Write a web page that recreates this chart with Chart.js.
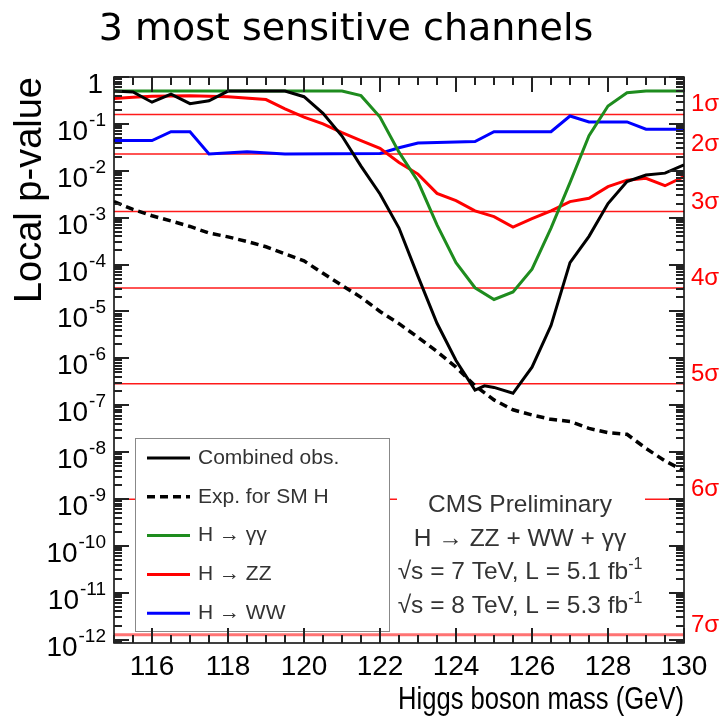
<!DOCTYPE html>
<html>
<head>
<meta charset="utf-8">
<script src="https://cdn.jsdelivr.net/npm/chart.js@4.4.1/dist/chart.umd.min.js"></script>
<style>
    html, body { margin: 0; padding: 0; background: #fff; }
    canvas { display: block; }
</style>
</head>
<body>
<canvas id="pvalueChart" width="724" height="726"></canvas>
<script>
// values (mass in GeV)
const combinedMass = [115, 115.5, 116, 116.5, 117, 117.5, 118, 119.5, 120, 120.5, 121, 121.5, 122, 122.5, 123, 123.5, 124, 124.5, 124.75, 125, 125.5, 126, 126.5, 127, 127.5, 128, 128.5, 129, 129.5, 130];
const combinedP = [0.5, 0.48, 0.29, 0.43, 0.27, 0.31, 0.5, 0.5, 0.38, 0.168, 0.055, 0.0126, 3.2e-3, 6e-4, 5.6e-5, 5.6e-6, 9e-7, 2.1e-7, 2.6e-7, 2.4e-7, 1.8e-7, 6.5e-7, 5e-6, 1.1e-4, 4e-4, 2e-3, 5.9e-3, 8.1e-3, 8.9e-3, 0.0133];

const expMass = [115, 115.5, 116, 116.5, 117, 117.5, 118, 118.5, 119, 119.5, 120, 120.5, 121, 121.5, 122, 122.5, 123, 123.5, 124, 124.5, 125, 125.5, 126, 126.5, 127, 127.5, 128, 128.5, 129, 129.5, 130];
const expP = [2.2e-3, 1.5e-3, 1.1e-3, 8.5e-4, 6.5e-4, 4.7e-4, 3.9e-4, 3.1e-4, 2.4e-4, 1.7e-4, 1.2e-4, 6.5e-5, 3.6e-5, 2.0e-5, 1.0e-5, 5.5e-6, 2.8e-6, 1.4e-6, 6.5e-7, 2.6e-7, 1.3e-7, 8e-8, 6.2e-8, 5e-8, 4.5e-8, 3.2e-8, 2.6e-8, 2.4e-8, 1.2e-8, 6.5e-9, 4e-9];

const gammaMass = [115, 121, 121.5, 122, 122.5, 123, 123.5, 124, 124.5, 125, 125.5, 126, 126.5, 127, 127.5, 128, 128.5, 129, 130];
const gammaP = [0.5, 0.5, 0.4, 0.14, 0.025, 5.9e-3, 7e-4, 1.1e-4, 3.2e-5, 1.8e-5, 2.6e-5, 8e-5, 6e-4, 5.6e-3, 0.056, 0.24, 0.46, 0.5, 0.5];

const zzMass = [115, 115.5, 116, 117, 118, 119, 119.5, 120, 120.5, 121, 121.5, 122, 122.5, 123, 123.5, 124, 124.5, 125, 125.5, 126, 126.5, 127, 127.5, 128, 128.5, 129, 129.5, 130];
const zzP = [0.35, 0.37, 0.39, 0.4, 0.38, 0.33, 0.21, 0.14, 0.1, 0.065, 0.044, 0.03, 0.015, 8.5e-3, 3.3e-3, 2.3e-3, 1.4e-3, 1.05e-3, 6.3e-4, 9.5e-4, 1.4e-3, 2.2e-3, 2.6e-3, 4.6e-3, 6.3e-3, 6.9e-3, 4.8e-3, 7.5e-3];

const wwMass = [115, 116, 116.5, 117, 117.5, 118.5, 119.5, 122, 122.5, 123, 124.5, 125, 126.5, 127, 127.5, 128.5, 129, 130];
const wwP = [0.044, 0.044, 0.068, 0.068, 0.0228, 0.0256, 0.0228, 0.0235, 0.031, 0.039, 0.042, 0.068, 0.068, 0.147, 0.11, 0.11, 0.077, 0.077];

const sigmaP = [0.1587, 0.02275, 1.35e-3, 3.167e-5, 2.867e-7, 9.866e-10, 1.28e-12];
const sigmaLabels = ['1σ', '2σ', '3σ', '4σ', '5σ', '6σ', '7σ'];

const xTicks = [116, 118, 120, 122, 124, 126, 128, 130];
const yExponents = [0, -1, -2, -3, -4, -5, -6, -7, -8, -9, -10, -11, -12];

const massRange = [115, 130];
const pRange = [8.5e-13, 1];

const infoLines = ['CMS Preliminary', 'H \u2192 ZZ + WW + \u03b3\u03b3', '\u221as = 7 TeV, L = 5.1 fb', '\u221as = 8 TeV, L = 5.3 fb'];
const infoSup = ['', '', '-1', '-1'];

function toPoints(mass, p) {
    return mass.map((m, i) => ({ x: m, y: p[i] }));
}

const SANS = "'Liberation Sans', Arial, Helvetica, sans-serif";

// right aligned "10" with raised exponent
function drawPower(ctx, base, sup, xRight, baseline, size) {
    ctx.font = size + 'px ' + SANS;
    const baseW = ctx.measureText(base).width;
    const supSize = Math.round(size * 0.68);
    ctx.font = supSize + 'px ' + SANS;
    const supW = sup ? ctx.measureText(sup).width : 0;
    ctx.textAlign = 'left';
    ctx.textBaseline = 'alphabetic';
    if (sup) ctx.fillText(sup, xRight - supW, baseline - size * 0.5);
    ctx.font = size + 'px ' + SANS;
    ctx.fillText(base, xRight - supW - baseW - (sup ? 1 : 0), baseline);
}

// small tick marks on all four sides, pointing into the frame
function drawFrameTicks(chart) {
    const ctx = chart.ctx;
    const area = chart.chartArea;
    const xs = chart.scales.x;
    const ys = chart.scales.y;
    ctx.save();
    ctx.strokeStyle = '#222';
    ctx.lineWidth = 2;
    ctx.setLineDash([]);
    const xTickCount = Math.round((massRange[1] - massRange[0]) / 0.5);
    for (let i = 0; i <= xTickCount; i++) {
        const m = massRange[0] + i * 0.5;
        const px = Math.round(xs.getPixelForValue(m));
        const len = (i % 4 === 2) ? 15 : 8;
        ctx.beginPath();
        ctx.moveTo(px, area.bottom);
        ctx.lineTo(px, area.bottom - len);
        ctx.moveTo(px, area.top);
        ctx.lineTo(px, area.top + len);
        ctx.stroke();
    }
    for (let e = 0; e >= -13; e--) {
        for (let k = 1; k <= 9; k++) {
            const v = k * Math.pow(10, e);
            if (v < pRange[0] || v > pRange[1]) continue;
            const py = Math.round(ys.getPixelForValue(v));
            const len = k === 1 ? 15 : 8;
            ctx.beginPath();
            ctx.moveTo(area.left, py);
            ctx.lineTo(area.left + len, py);
            ctx.moveTo(area.right, py);
            ctx.lineTo(area.right - len, py);
            ctx.stroke();
        }
    }
    ctx.restore();
}

const cmsDecor = {
    id: 'cmsDecor',
    afterDatasetsDraw(chart) {
        const ctx = chart.ctx;
        const area = chart.chartArea;
        const ys = chart.scales.y;
        ctx.save();

        // legend box, entries taken from the datasets
        const lg = { x: 135, y: 438, w: 254, h: 193 };
        ctx.fillStyle = '#fff';
        ctx.fillRect(lg.x, lg.y, lg.w, lg.h);
        ctx.strokeStyle = '#888';
        ctx.lineWidth = 1;
        ctx.strokeRect(lg.x + 0.5, lg.y + 0.5, lg.w, lg.h);
        const entries = chart.data.datasets.filter(d => !d.isSigma);
        entries.forEach((d, i) => {
            const yRow = 458 + i * 38.8;
            ctx.beginPath();
            ctx.setLineDash(d.borderDash || []);
            ctx.strokeStyle = d.borderColor;
            ctx.lineWidth = d.borderWidth;
            ctx.moveTo(147, yRow);
            ctx.lineTo(190, yRow);
            ctx.stroke();
            ctx.setLineDash([]);
            ctx.fillStyle = '#333';
            ctx.font = '21px ' + SANS;
            ctx.textAlign = 'left';
            ctx.textBaseline = 'middle';
            ctx.fillText(d.label, 198, yRow);
        });

        // info text block
        ctx.fillStyle = '#fff';
        ctx.fillRect(397, 470, 248, 162);
        infoLines.forEach((line, i) => {
            const baseline = 512 + i * 33.5;
            ctx.font = '24.5px ' + SANS;
            const w = ctx.measureText(line).width;
            ctx.font = '16px ' + SANS;
            const sw = infoSup[i] ? ctx.measureText(infoSup[i]).width : 0;
            const x0 = 520 - (w + sw) / 2;
            ctx.fillStyle = '#333';
            ctx.textAlign = 'left';
            ctx.textBaseline = 'alphabetic';
            ctx.font = '24.5px ' + SANS;
            ctx.fillText(line, x0, baseline);
            if (infoSup[i]) {
                ctx.font = '16px ' + SANS;
                ctx.fillText(infoSup[i], x0 + w, baseline - 10);
            }
        });

        // frame
        ctx.strokeStyle = '#000';
        ctx.lineWidth = 1.5;
        ctx.strokeRect(area.left, area.top, area.right - area.left, area.bottom - area.top);

        // y tick labels
        ctx.fillStyle = '#000';
        yExponents.forEach(e => {
            const py = ys.getPixelForValue(Math.pow(10, e));
            if (e === 0) drawPower(ctx, '1', '', 103, py + 16, 28);
            else drawPower(ctx, '10', String(e), 106, py + 16, 28);
        });

        // sigma labels on the right
        ctx.fillStyle = '#ff0000';
        ctx.font = '24px ' + SANS;
        ctx.textAlign = 'left';
        ctx.textBaseline = 'alphabetic';
        sigmaP.forEach((p, i) => {
            ctx.fillText(sigmaLabels[i], 691, ys.getPixelForValue(p) - 3);
        });

        // x axis title, set narrow like the original
        ctx.save();
        ctx.translate(area.right, 700);
        ctx.scale(0.8, 1);
        ctx.fillStyle = '#000';
        ctx.font = '32px ' + SANS;
        ctx.textAlign = 'right';
        ctx.textBaseline = 'middle';
        ctx.fillText('Higgs boson mass (GeV)', 0, 0);
        ctx.restore();

        // title
        ctx.fillStyle = '#000';
        ctx.font = "38px 'DejaVu Sans', sans-serif";
        ctx.textAlign = 'center';
        ctx.textBaseline = 'alphabetic';
        ctx.fillText('3 most sensitive channels', 346, 40);
        ctx.restore();
    },
    afterDraw(chart) {
        drawFrameTicks(chart);
    }
};

const curveSets = [
    { label: 'Combined obs.', data: toPoints(combinedMass, combinedP), borderColor: '#000000', borderWidth: 3 },
    { label: 'Exp. for SM H', data: toPoints(expMass, expP), borderColor: '#000000', borderWidth: 3.5, borderDash: [8, 5] },
    { label: 'H \u2192 \u03b3\u03b3', data: toPoints(gammaMass, gammaP), borderColor: '#1e8c1e', borderWidth: 3 },
    { label: 'H \u2192 ZZ', data: toPoints(zzMass, zzP), borderColor: '#ff0000', borderWidth: 3 },
    { label: 'H \u2192 WW', data: toPoints(wwMass, wwP), borderColor: '#0000ff', borderWidth: 3 }
];

const sigmaSets = sigmaP.map((p, i) => ({
    label: sigmaLabels[i],
    isSigma: true,
    data: toPoints(massRange, [p, p]),
    borderColor: i === 6 ? 'rgba(255,0,0,0.55)' : '#ff1a1a',
    borderWidth: i === 6 ? 3 : 1.5
}));

new Chart(document.getElementById('pvalueChart'), {
    type: 'line',
    data: { datasets: curveSets.concat(sigmaSets) },
    options: {
        responsive: false,
        animation: false,
        devicePixelRatio: 1,
        layout: { padding: { top: 77, left: 0, right: 0, bottom: 0 } },
        elements: {
            point: { radius: 0 },
            line: { tension: 0, fill: false }
        },
        plugins: {
            legend: { display: false },
            tooltip: { enabled: false },
            title: { display: false }
        },
        scales: {
            x: {
                type: 'linear',
                min: massRange[0],
                max: massRange[1],
                afterBuildTicks: scale => { scale.ticks = xTicks.map(v => ({ value: v })); },
                afterFit: scale => { scale.height = 83; },
                grid: { display: false, drawTicks: false },
                border: { display: false },
                ticks: {
                    autoSkip: false,
                    maxRotation: 0,
                    padding: 7,
                    color: '#000',
                    font: { family: SANS, size: 28 }
                }
            },
            y: {
                type: 'logarithmic',
                position: 'left',
                min: pRange[0],
                max: pRange[1],
                afterFit: scale => { scale.width = 114; },
                grid: { display: false, drawTicks: false },
                border: { display: false },
                ticks: { display: false },
                title: {
                    display: true,
                    text: 'Local p-value',
                    align: 'end',
                    color: '#000',
                    font: { family: SANS, size: 38 },
                    padding: { top: 8, bottom: 0 }
                }
            },
            ySigma: {
                type: 'logarithmic',
                position: 'right',
                min: pRange[0],
                max: pRange[1],
                afterFit: scale => { scale.width = 40; },
                grid: { display: false, drawTicks: false },
                border: { display: false },
                ticks: { display: false }
            }
        }
    },
    plugins: [cmsDecor]
});
</script>
</body>
</html>
